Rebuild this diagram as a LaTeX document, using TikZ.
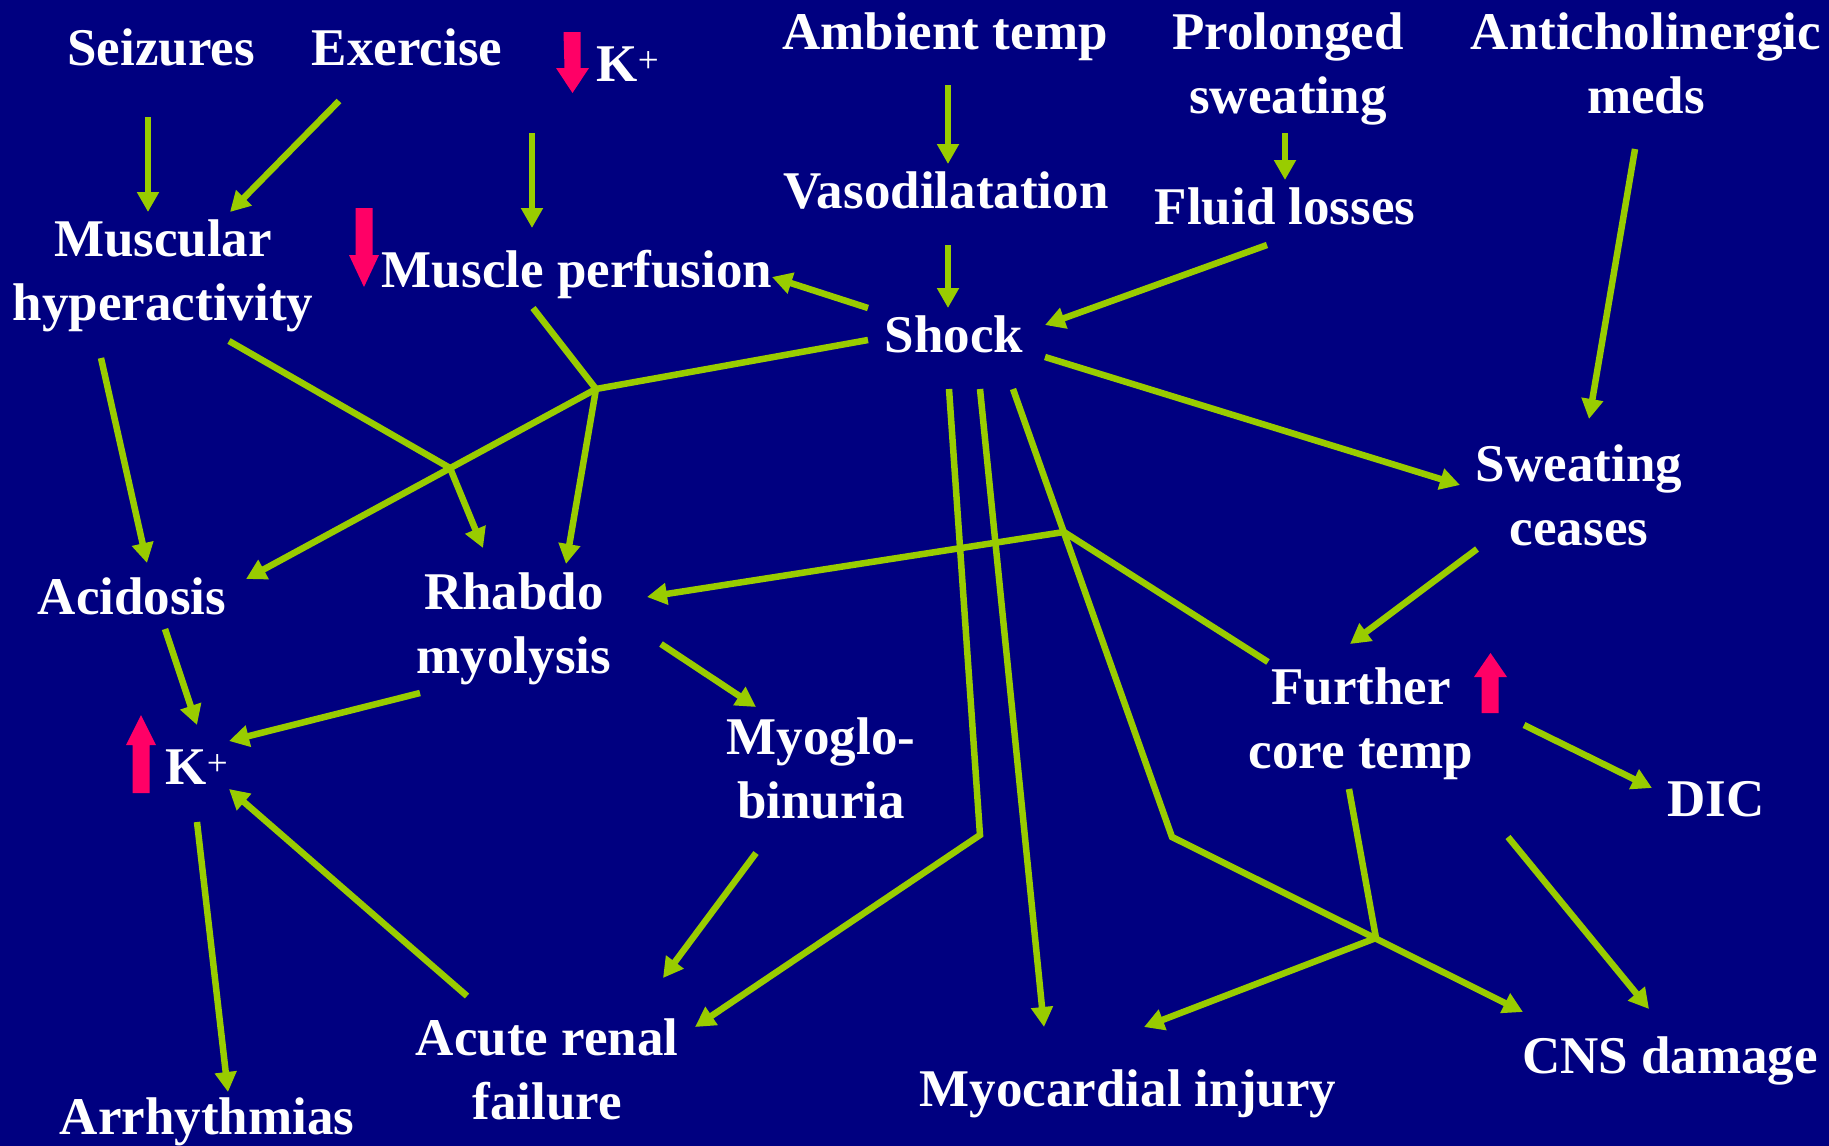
\documentclass[tikz,border=0pt]{standalone}
\usepackage{fontspec}
\setmainfont{Liberation Serif}
\usetikzlibrary{arrows.meta}
\definecolor{bgnavy}{HTML}{000080}
\definecolor{lgreen}{HTML}{99CC00}
\definecolor{hotpink}{HTML}{FF0066}
\begin{document}
\begin{tikzpicture}[x=1pt,y=-1pt,
  lbl/.style={anchor=north, inner sep=0pt, outer sep=0pt, align=center, text=white,
    font=\bfseries\fontsize{53}{64}\selectfont},
  conn/.style={draw=lgreen, line width=6.5pt},
  arr/.style={conn, -{Triangle[length=20pt,width=21pt]}},
  redarrow/.style={fill=hotpink, draw=none}
]
\fill[bgnavy] (0,0) rectangle (1829,1146);
\useasboundingbox (0,0) rectangle (1829,1146);

% nodes
\node[lbl] (seiz)  at (161,21)   {\strut Seizures};
\node[lbl] (exer)  at (407,21)   {\strut Exercise};
\node[lbl] (ktop)  at (628,37)   {\strut K\textsuperscript{\mdseries +}};
\node[lbl] (amb)   at (945,5)    {\strut Ambient temp};
\node[lbl] (prol)  at (1288,5)   {\strut Prolonged\\\strut sweating};
\node[lbl] (anti)  at (1646,5)   {\strut Anticholinergic\\\strut meds};
\node[lbl] (vaso)  at (946,164)  {\strut Vasodilatation};
\node[lbl] (fluid) at (1285,180) {\strut Fluid losses};
\node[lbl] (musc)  at (163,212)  {\strut Muscular\\\strut hyperactivity};
\node[lbl] (mperf) at (577,243)  {\strut Muscle perfusion};
\node[lbl] (shock) at (954,308)  {\strut Shock};
\node[lbl] (sweat) at (1579,437) {\strut Sweating\\\strut ceases};
\node[lbl] (acid)  at (132,570)  {\strut Acidosis};
\node[lbl] (rhab)  at (514,565)  {\strut Rhabdo\\\strut myolysis};
\node[lbl] (furth) at (1361,660) {\strut Further\\\strut core temp};
\node[lbl] (kleft) at (197,740)  {\strut K\textsuperscript{\mdseries +}};
\node[lbl] (myog)  at (821,710)  {\strut Myoglo-\\\strut binuria};
\node[lbl] (dic)   at (1716,772) {\strut DIC};
\node[lbl] (arr)   at (207,1090) {\strut Arrhythmias};
\node[lbl] (arf)   at (547,1011) {\strut Acute renal\\\strut failure};
\node[lbl] (myoc)  at (1128,1062){\strut Myocardial injury};
\node[lbl] (cns)   at (1670,1029){\strut CNS damage};

% red up/down arrows
\fill[redarrow] (563.5,32) -- (580.5,32) -- (580.5,68) -- (589,68) -- (572.5,93) -- (556,68) -- (564.5,68) -- cycle;
\fill[redarrow] (355.5,208) -- (372.5,208) -- (372.5,255) -- (379,255) -- (364,287) -- (349,255) -- (355.5,255) -- cycle;
\fill[redarrow] (132.5,793) -- (149.5,793) -- (149.5,745) -- (156,745) -- (141,715) -- (126,745) -- (132.5,745) -- cycle;
\fill[redarrow] (1481.5,713) -- (1498.5,713) -- (1498.5,677) -- (1507,677) -- (1490.5,653) -- (1474,677) -- (1481.5,677) -- cycle;

% junctions and bends
\coordinate (j1) at (596,389);
\coordinate (k1) at (450,468);
\coordinate (s1) at (980,835);
\coordinate (u1) at (1172,837);
\coordinate (j2) at (1064,532);
\coordinate (j3) at (1376,938);

% connectors
\draw[arr] ([shift={(-13,96)}]seiz.north) -- ([shift={(-15,0)}]musc.north);
\draw[arr] ([shift={(-68,80)}]exer.north) -- ([shift={(67,0)}]musc.north);
\draw[arr] ([shift={(-96,96)}]ktop.north) -- ([shift={(-45,-15)}]mperf.north);
\draw[arr] ([shift={(3,80)}]amb.north) -- ([shift={(2,0)}]vaso.north);
\draw[arr] ([shift={(-3,128)}]prol.north) -- ([shift={(0,0)}]fluid.north);
\draw[arr] ([shift={(-11,144)}]anti.north) -- ([shift={(10,-18)}]sweat.north);
\draw[arr] ([shift={(2,81)}]vaso.north) -- ([shift={(-6,0)}]shock.north);
\draw[arr] ([shift={(-18,65)}]fluid.north) -- ([shift={(91,17)}]shock.north);
\draw[arr] ([shift={(-86,0)}]shock.north) -- ([shift={(195,34)}]mperf.north);

\draw[conn] ([shift={(-86,32)}]shock.north) -- (j1);
\draw[conn] ([shift={(-44,65)}]mperf.north) -- (j1);
\draw[arr] (j1) -- ([shift={(52,-1)}]rhab.north);
\draw[arr] (j1) -- ([shift={(114,9)}]acid.north);

\draw[arr] ([shift={(66,129)}]musc.north) -- (k1) -- ([shift={(-31,-17)}]rhab.north);
\draw[arr] ([shift={(-62,146)}]musc.north) -- ([shift={(15,-7)}]acid.north);
\draw[arr] ([shift={(33,59)}]acid.north) -- ([shift={(0,-15)}]kleft.north);
\draw[arr] ([shift={(-94,128)}]rhab.north) -- ([shift={(32,1)}]kleft.north);
\draw[arr] ([shift={(-80,-15)}]arf.north) -- ([shift={(32,49)}]kleft.north);
\draw[arr] ([shift={(0,82)}]kleft.north) -- ([shift={(21,2)}]arr.north);
\draw[arr] ([shift={(147,79)}]rhab.north) -- ([shift={(-65,-3)}]myog.north);
\draw[arr] ([shift={(-65,143)}]myog.north) -- ([shift={(116,-33)}]arf.north);

\draw[arr] ([shift={(-5,81)}]shock.north) -- (s1) -- ([shift={(148,16)}]arf.north);
\draw[arr] ([shift={(26,81)}]shock.north) -- ([shift={(-84,-35)}]myoc.north);
\draw[arr] ([shift={(59,81)}]shock.north) -- (u1) -- ([shift={(-147,-17)}]cns.north);
\draw[arr] ([shift={(91,49)}]shock.north) -- ([shift={(-119,48)}]sweat.north);

\draw[arr] ([shift={(-102,112)}]sweat.north) -- ([shift={(-11,-16)}]furth.north);
\draw[arr] ([shift={(-93,2)}]furth.north) -- (j2) -- ([shift={(133,32)}]rhab.north);
\draw[arr] ([shift={(-12,129)}]furth.north) -- (j3) -- ([shift={(16,-35)}]myoc.north);
\draw[arr] ([shift={(163,65)}]furth.north) -- ([shift={(-64,16)}]dic.north);
\draw[arr] ([shift={(147,177)}]furth.north) -- ([shift={(-21,-20)}]cns.north);
\end{tikzpicture}
\end{document}
